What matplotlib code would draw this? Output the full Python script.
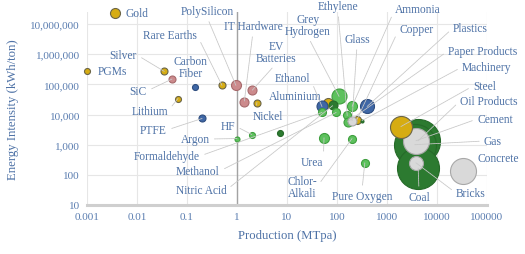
import matplotlib

matplotlib.use("Agg")
import matplotlib.pyplot as plt

# production (MTpa), energy intensity (kWh/ton), bubble radius (px), colour group
names = [
    "Oil Products", "Gas", "Coal", "Concrete", "Cement", "Bricks", "Steel",
    "Grey Hydrogen", "Plastics", "Aluminium", "Ethanol", "Nitric Acid",
    "Formaldehyde", "Methanol", "Ammonia", "Ethylene", "Copper", "Machinery",
    "Paper Products", "Glass", "Urea", "Chlor-Alkali", "Pure Oxygen", "",
    "HF", "Argon", "Nickel", "IT Hardware", "EV Batteries", "PolySilicon",
    "Rare Earths", "PTFE", "Lithium", "Carbon Fiber", "SiC", "Silver", "PGMs", "Gold",
]
production = [
    4200, 3600, 4200, 33000, 3800, 3800, 1900,
    110, 400, 66, 50, 83,
    50, 96, 200, 160, 250, 316,
    165, 200, 55, 200, 360, 7.2,
    2.0, 1.0, 2.5, 1.4, 2.0, 0.95,
    0.5, 0.2, 0.066, 0.145, 0.05, 0.035, 0.001, 0.0036,
]
intensity = [
    1350, 1000, 170, 135, 1350, 250, 4000,
    40000, 18500, 25000, 18500, 20000,
    11700, 11700, 18500, 9300, 6800, 6300,
    5800, 6300, 1700, 1600, 250, 2500,
    2150, 1600, 25000, 27000, 63000, 93000,
    93000, 7400, 34000, 80000, 150000, 270000, 270000, 23000000,
]
radius = [
    22, 21, 21, 13, 13, 7, 11,
    7.5, 7, 5, 5.5, 4.5,
    4, 4, 5, 4, 4, 1.5,
    4.5, 4.5, 5, 4, 4, 3,
    3, 2.5, 3.5, 4.5, 4.5, 5,
    3.5, 3.5, 3, 3, 3.5, 3.5, 3, 5,
]
group = [
    "dg", "dg", "dg", "gy", "gy", "gy", "y",
    "lg", "b", "y", "b", "dg",
    "lg", "lg", "lg", "lg", "y", "dg",
    "lg", "gy", "lg", "lg", "lg", "dg",
    "lg", "lg", "y", "p", "p", "p",
    "y", "b", "y", "b", "p", "y", "y", "y",
]

x_ticks = [0.001, 0.01, 0.1, 1, 10, 100, 1000, 10000, 100000]
x_labels = ["0.001", "0.01", "0.1", "1", "10", "100", "1000", "10000", "100000"]
y_ticks = [10, 100, 1000, 10000, 100000, 1000000, 10000000]
y_labels = ["10", "100", "1,000", "10,000", "100,000", "1,000,000", "10,000,000"]

face = {"y": "#D6AC12", "p": "#CC8A8C", "b": "#3F67A6", "lg": "#5DC15D",
        "dg": "#2C7A30", "gy": "#D9D9D9"}
edge = {"y": "#6B6547", "p": "#A76A6C", "b": "#2F4E80", "lg": "#3E9E3E",
        "dg": "#266A29", "gy": "#A8A8A8"}

# label placement in figure pixels (from top-left): x, y, ha, leader anchor
layout = {
    "Gold": (126, 14, "left", None),
    "PGMs": (98, 72, "left", None),
    "Silver": (137, 56, "right", (1, 0.5)),
    "Carbon Fiber": (191, 68, "center", None),
    "SiC": (147, 92, "right", (1, 0.5)),
    "Lithium": (168, 112, "right", (1, 0.5)),
    "PTFE": (167, 131, "right", (1, 0.5)),
    "Rare Earths": (197, 36, "right", (1, 0.5)),
    "PolySilicon": (207, 12, "center", (0.5, 0)),
    "IT Hardware": (253, 27, "center", (0.5, 0)),
    "EV Batteries": (276, 53, "center", (0.5, 0)),
    "Nickel": (253, 117, "left", (0.1, 0.8)),
    "Ethanol": (310, 79, "right", (1, 0.5)),
    "Aluminium": (322, 97, "right", None),
    "Grey Hydrogen": (308, 26, "center", (0.5, 0)),
    "Ethylene": (338, 7, "center", (0.5, 0)),
    "Glass": (357, 40, "center", (0.5, 0)),
    "Ammonia": (395, 10, "left", (0, 0.5)),
    "Copper": (399, 30, "left", (0, 0.5)),
    "Plastics": (453, 29, "left", (0, 0.5)),
    "Paper Products": (448, 52, "left", (0, 0.5)),
    "Machinery": (462, 68, "left", (0, 0.5)),
    "Steel": (473, 87, "left", (0, 0.5)),
    "Oil Products": (460, 102, "left", (0, 0.5)),
    "Cement": (477, 120, "left", (0, 0.5)),
    "Gas": (484, 142, "left", (0, 0.5)),
    "Concrete": (477, 159, "left", None),
    "Bricks": (456, 194, "left", (0, 0.5)),
    "Coal": (419, 198, "center", (0.5, 1)),
    "Pure Oxygen": (362, 197, "center", (0.5, 1)),
    "Chlor-Alkali": (302, 188, "center", (1, 0.5)),
    "Urea": (312, 163, "center", (1, 0.5)),
    "HF": (228, 127, "center", (1, 0.5)),
    "Argon": (195, 140, "center", (1, 0.5)),
    "Formaldehyde": (167, 157, "center", (1, 0.5)),
    "Methanol": (198, 172, "center", (1, 0.5)),
    "Nitric Acid": (201, 191, "center", (1, 0.5)),
}
multiline = {"Carbon Fiber": "Carbon\nFiber", "EV Batteries": "EV\nBatteries",
             "Grey Hydrogen": "Grey\nHydrogen", "Chlor-Alkali": "Chlor-\nAlkali"}

W, H = 525, 255
text_col = "#4E72A6"
tick_col = "#5A7DB0"
serif = "Liberation Serif"

fig = plt.figure(figsize=(W / 100, H / 100), dpi=100)
ax = fig.add_axes([87 / W, 1 - 206 / H, 400 / W, 193 / H])
ax.set_xscale("log")
ax.set_yscale("log")
ax.set_xlim(1e-3, 1e5)
ax.set_ylim(10, 10 ** 7.4)

ax.set_xticks(x_ticks)
ax.set_xticklabels(x_labels)
ax.set_yticks(y_ticks)
ax.set_yticklabels(y_labels)
ax.minorticks_off()
ax.tick_params(length=0, labelsize=8, labelcolor=tick_col, pad=5)
for lab in ax.get_xticklabels() + ax.get_yticklabels():
    lab.set_family(serif)
ax.grid(True, color="#E6E6E6", lw=0.8, zorder=0)
ax.set_axisbelow(True)
for side in ["top", "right", "left"]:
    ax.spines[side].set_visible(False)
ax.spines["bottom"].set_color("#CFCFCF")
ax.spines["bottom"].set_linewidth(2.2)
ax.axvline(1, color="#A3A3A3", lw=1.0, zorder=1)

for n, x, y, r, g in zip(names, production, intensity, radius, group):
    ax.scatter([x], [y], s=(1.44 * r) ** 2, c=face[g], edgecolors=edge[g],
               linewidths=0.8, zorder=2, clip_on=False)

for n, x, y in zip(names, production, intensity):
    if n not in layout:
        continue
    px, py, ha, rel = layout[n]
    props = None
    if rel is not None:
        props = dict(arrowstyle="-", color="#C8C8C8", lw=0.6, ls=(0, (2, 0.8)),
                     shrinkA=1.5, shrinkB=0, relpos=rel)
    ax.annotate(multiline.get(n, n), xy=(x, y), xytext=(px, H - py),
                textcoords="figure pixels", ha=ha, va="center",
                fontsize=8.3, family=serif, color=text_col,
                linespacing=0.95, arrowprops=props, zorder=3,
                annotation_clip=False)

ax.set_xlabel("Production (MTpa)", fontsize=9.2, family=serif, color=text_col,
              labelpad=6)
ax.set_ylabel("Energy Intensity (kWh/ton)", fontsize=9.2, family=serif,
              color=text_col, labelpad=8)

fig.savefig("out.png", dpi=100)
